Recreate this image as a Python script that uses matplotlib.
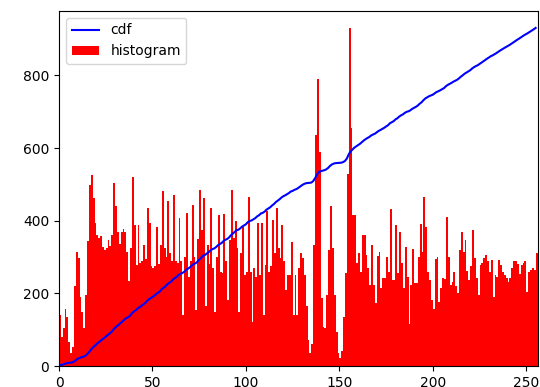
import numpy as np
import matplotlib
matplotlib.use("Agg")
import matplotlib.pyplot as plt

# pixel counts per grey level (0..255)
counts = [
    141, 81, 104, 156, 136, 67, 35, 53, 219, 315, 297, 191, 150, 104, 196, 343,
    499, 527, 462, 393, 361, 352, 357, 329, 320, 325, 348, 330, 360, 505, 440, 370,
    335, 370, 378, 370, 315, 233, 325, 520, 389, 279, 389, 285, 290, 334, 295, 435,
    394, 275, 270, 275, 384, 280, 334, 481, 325, 300, 453, 310, 290, 472, 290, 285,
    407, 290, 141, 300, 421, 245, 290, 444, 300, 154, 350, 485, 375, 462, 164, 334,
    280, 435, 270, 150, 300, 417, 260, 255, 418, 288, 182, 348, 486, 352, 400, 325,
    150, 311, 384, 251, 260, 464, 260, 120, 270, 246, 394, 250, 394, 141, 279, 428,
    260, 274, 403, 311, 435, 325, 297, 387, 288, 210, 251, 251, 341, 141, 250, 141,
    270, 311, 297, 250, 164, 72, 35, 60, 334, 635, 789, 590, 187, 108, 105, 196,
    320, 441, 325, 196, 95, 35, 22, 40, 135, 255, 530, 931, 656, 417, 417, 283,
    311, 260, 361, 361, 306, 270, 223, 334, 223, 173, 302, 315, 214, 242, 242, 300,
    260, 433, 237, 237, 389, 256, 370, 283, 216, 329, 246, 115, 223, 322, 228, 228,
    300, 391, 315, 464, 384, 260, 237, 182, 157, 295, 300, 177, 214, 242, 240, 409,
    300, 223, 230, 260, 219, 200, 320, 370, 315, 347, 262, 237, 274, 375, 297, 242,
    196, 279, 285, 297, 306, 290, 260, 292, 191, 251, 246, 292, 279, 260, 251, 242,
    232, 242, 269, 288, 290, 280, 253, 279, 283, 290, 205, 260, 264, 270, 265, 310,
]
levels = np.arange(256)

hist = np.array(counts, dtype=float)
cdf = hist.cumsum()
cdf_normalized = cdf * hist.max() / cdf.max()

fig = plt.figure(figsize=(5.4, 3.87), dpi=100)
fig.subplots_adjust(left=59/540, right=537.5/540, bottom=21/387, top=1 - 11/387)

plt.plot(cdf_normalized, color='b')
plt.hist(levels, 256, [0, 256], weights=hist, color='r')
plt.xlim([0, 256])
plt.legend(('cdf', 'histogram'), loc='upper left')

plt.savefig("out.png", dpi=100)
